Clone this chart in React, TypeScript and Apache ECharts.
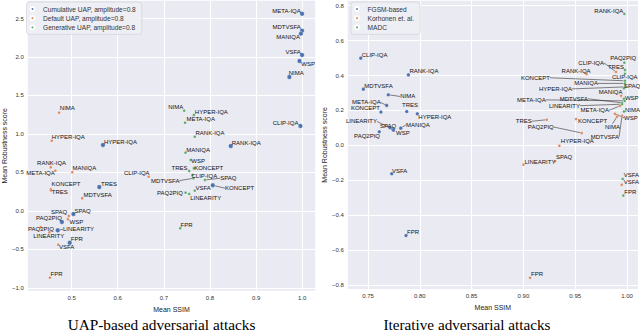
import React, { useEffect, useRef } from "react";
import * as echarts from "echarts";

// ---------- Left panel: UAP-based adversarial attacks ----------
const cumulativeNames = ["META-IQA", "MDTVSFA", "MANIQA", "VSFA", "WSP", "NIMA", "CLIP-IQA", "RANK-IQA", "HYPER-IQA", "TRES", "SPAQ", "PAQ2PIQ", "LINEARITY", "FPR", "KONCEPT"];
const cumulativeSSIM = [0.9995, 0.9995, 0.997, 0.9995, 0.994, 0.972, 0.996, 0.845, 0.568, 0.56, 0.504, 0.479, 0.47, 0.496, 0.806];
const cumulativeScore = [2.562, 2.342, 2.303, 2.026, 1.948, 1.74, 1.104, 0.844, 0.857, 0.312, -0.039, -0.143, -0.251, -0.412, 0.334];

const defaultNames = ["NIMA", "HYPER-IQA", "RANK-IQA", "META-IQA", "MANIQA", "KONCEPT", "TRES", "MDTVSFA", "CLIP-IQA", "SPAQ", "WSP", "PAQ2PIQ", "LINEARITY", "VSFA", "FPR"];
const defaultSSIM = [0.473, 0.457, 0.455, 0.465, 0.5015, 0.455, 0.4555, 0.523, 0.667, 0.494, 0.492, 0.433, 0.452, 0.471, 0.453];
const defaultScore = [1.277, 0.913, 0.568, 0.523, 0.503, 0.282, 0.266, 0.165, 0.445, -0.065, -0.108, -0.212, -0.277, -0.438, -0.866];

const generativeNames = ["NIMA", "HYPER-IQA", "META-IQA", "RANK-IQA", "MANIQA", "WSP", "TRES", "KONCEPT", "CLIP-IQA", "MDTVSFA", "SPAQ", "VSFA", "PAQ2PIQ", "LINEARITY", "FPR"];
const generativeSSIM = [0.744, 0.765, 0.746, 0.767, 0.747, 0.758, 0.755, 0.765, 0.762, 0.764, 0.789, 0.767, 0.747, 0.755, 0.7355];
const generativeScore = [1.303, 1.247, 1.147, 0.965, 0.757, 0.662, 0.519, 0.555, 0.468, 0.425, 0.403, 0.264, 0.238, 0.221, -0.225];

// ---------- Right panel: Iterative adversarial attacks ----------
const fgsmNames = ["CLIP-IQA", "RANK-IQA", "MDTVSFA", "NIMA", "META-IQA", "KONCEPT", "TRES", "HYPER-IQA", "LINEARITY", "SPAQ", "WSP", "MANIQA", "PAQ2PIQ", "VSFA", "FPR"];
const fgsmSSIM = [0.743, 0.789, 0.7455, 0.7696, 0.768, 0.7625, 0.7874, 0.7976, 0.7712, 0.7738, 0.7746, 0.7816, 0.7609, 0.7729, 0.7867];
const fgsmScore = [0.5, 0.404, 0.322, 0.29, 0.229, 0.191, 0.194, 0.181, 0.101, 0.094, 0.087, 0.099, 0.078, -0.162, -0.516];

const korhonenNames = ["CLIP-IQA", "RANK-IQA", "KONCEPT", "HYPER-IQA", "PAQ2PIQ", "TRES", "LINEARITY", "SPAQ", "FPR", "VSFA", "MANIQA", "META-IQA", "WSP", "NIMA", "MDTVSFA"];
const korhonenSSIM = [0.9894, 0.961, 0.9508, 0.9347, 0.9563, 0.9225, 0.9, 0.9305, 0.9064, 0.9949, 0.9942, 0.9932, 0.9884, 0.9903, 0.9952];
const korhonenScore = [0.421, 0.408, 0.151, -0.002, 0.071, 0.147, -0.11, -0.091, -0.758, -0.225, 0.284, 0.227, 0.181, 0.164, 0.17];

const madcNames = ["RANK-IQA", "PAQ2PIQ", "TRES", "CLIP-IQA", "KONCEPT", "MANIQA", "HYPER-IQA", "SPAQ", "WSP", "META-IQA", "MDTVSFA", "LINEARITY", "NIMA", "VSFA", "FPR"];
const madcSSIM = [0.9974, 0.9974, 0.998, 0.998, 0.998, 0.998, 0.998, 0.997, 0.997, 0.9977, 0.9952, 0.9952, 0.997, 0.9958, 0.9964];
const madcScore = [0.753, 0.474, 0.432, 0.41, 0.37, 0.355, 0.335, 0.327, 0.267, 0.255, 0.244, 0.236, 0.194, -0.192, -0.287];

// Tick labels
const leftXTicks = [0.5, 0.6, 0.7, 0.8, 0.9, 1.0];
const leftYTicks = [-1.0, -0.5, 0.0, 0.5, 1.0, 1.5, 2.0, 2.5];
const rightXTicks = [0.75, 0.8, 0.85, 0.9, 0.95, 1.0];
const rightYTicks = [-0.8, -0.6, -0.4, -0.2, 0.0, 0.2, 0.4, 0.6, 0.8];

const seriesTitles = ["Cumulative UAP, amplitude=0.8", "Default UAP, amplitude=0.8", "Generative UAP, amplitude=0.8", "FGSM-based", "Korhonen et. al.", "MADC"];
const captions = ["UAP-based adversarial attacks", "Iterative adversarial attacks"];

// ---------- Layout (label placement: dx, dy from point, alignment, leader line) ----------
type Off = [number, number, string, number?];
const cumulativeLabelPos: Off[] = [[-1.3, -3, "r"], [-1.3, -4, "r"], [-1, 3, "r"], [-1.3, -3, "r"], [1.7, 3, "l"], [-0.7, -4, "l"], [-2, -3.3, "r"], [1, -3.3, "l"], [1, -3.3, "l"], [1.7, -3.3, "l"], [1, -3.3, "l"], [0, -4, "r"], [5.3, -1, "l", 1], [1, -3.7, "l"], [12.3, 3, "l", 1]];
const defaultLabelPos: Off[] = [[0.7, -4.4, "l"], [0, -4, "l"], [-13.7, -4, "l"], [-0.7, 2.6, "r"], [0.3, -4, "l"], [0.7, -5, "l"], [0.7, 2, "l"], [1.3, -3.3, "l"], [1, -3.4, "r"], [-1.6, -4.3, "r"], [1.7, 2.4, "l"], [-12.7, 1.4, "l"], [-16.3, 3.4, "l"], [0.7, 2.3, "l"], [0.7, -3.4, "l"]];
const generativeLabelPos: Off[] = [[-1, -4, "r"], [1, -2.7, "l"], [1.3, -3.7, "l"], [0.7, -4, "l"], [0.7, -2.7, "l"], [0.7, 1, "l"], [-1.7, -3.3, "r"], [0.3, 0, "l"], [-1, 1, "l"], [-14, 2.4, "r", 1], [15.3, -1.7, "l", 1], [0.7, -3, "l"], [-2.6, 0, "r"], [1, 3.7, "l"], [0.3, -3.3, "l"]];
const fgsmLabelPos: Off[] = [[1, -3, "l"], [1, -4, "l"], [1, -3.6, "l"], [12, 1.7, "l", 1], [-6, -3, "r", 1], [-1, -4, "r"], [-4.7, -6.7, "l"], [1, 2.7, "l"], [-13, -6.3, "r", 1], [-12.7, -3.3, "l"], [2.5, 2.8, "l"], [5.3, -3.3, "l", 1], [0.7, 4, "r"], [0.3, -3, "l"], [1, -4, "l"]];
const korhonenLabelPos: Off[] = [[-12, -9, "r", 1], [-25, -3, "l"], [2, 1.5, "l"], [1.5, -5, "l"], [-28, -6, "r", 1], [-15, 1.5, "r", 1], [1, -3, "l"], [1, -4, "l"], [1, -4, "l"], [2, -3, "l"], [1.5, -4, "r"], [-11, 4.7, "r", 1], [9, 4, "l", 1], [-12, 10, "l", 1], [-3, 21, "r", 1]];
const madcLabelPos: Off[] = [[-1, -3, "r"], [-14, -5, "l"], [-1, -3, "r"], [-13, 3, "l"], [-75, -3, "r", 1], [-27, 0, "r", 1], [-53, 2, "r", 1], [0, -2.5, "l"], [1, -1, "l"], [-79, -1, "r", 1], [-34, -4, "r", 1], [-42, 1.5, "r", 1], [1, -2, "l"], [1, -4, "l"], [1, -4, "l"]];

const BLUE = "#4C72B0";
const ORANGE = "#DD8452";
const GREEN = "#55A868";

function fmt(d: number) {
  return (v: number) => v.toFixed(d).replace("-", "\u2212");
}

function makeSeries(name: string, names: string[], xs: number[], ys: number[], pos: Off[], color: string, size: number, gi: number, z: number) {
  return {
    type: "scatter",
    name,
    xAxisIndex: gi,
    yAxisIndex: gi,
    symbolSize: size,
    z,
    itemStyle: { color, opacity: 1, borderColor: "#fff", borderWidth: 0.3 },
    data: names.map((n, i) => ({
      name: n,
      value: [xs[i], ys[i]],
      labelLine: { show: !!pos[i][3] },
    })),
    label: {
      show: true,
      formatter: (p: any) => p.name,
      fontSize: 6,
      color: "#111",
      fontFamily: "Liberation Sans, Arial, sans-serif",
    },
    labelLine: { show: true, lineStyle: { color: "#333", width: 0.6 } },
    labelLayout: (params: any) => {
      const o = pos[params.dataIndex];
      const cx = params.rect.x + params.rect.width / 2;
      const cy = params.rect.y + params.rect.height / 2;
      return {
        x: cx + o[0],
        y: cy + o[1],
        align: o[2] === "r" ? "right" : "left",
        verticalAlign: "middle",
      };
    },
  };
}

function axisCommon(ticks: number[], digits: number) {
  return {
    type: "value",
    axisLine: { show: false },
    axisTick: { show: false, customValues: ticks },
    axisLabel: { customValues: ticks, formatter: fmt(digits), fontSize: 6, color: "#333", margin: 4, fontFamily: "Liberation Sans, Arial, sans-serif" },
    splitLine: { show: true, lineStyle: { color: "#ffffff", width: 1 } },
    nameTextStyle: { fontSize: 7, color: "#222", fontFamily: "Liberation Sans, Arial, sans-serif" },
  };
}

const legendCommon = {
  orient: "vertical",
  top: 2,
  itemWidth: 11,
  itemHeight: 4,
  itemGap: 2.2,
  icon: "circle",
  padding: [3.5, 6, 3.5, 3],
  backgroundColor: "rgba(238,238,245,0.9)",
  borderColor: "#d4d4dc",
  borderWidth: 0.8,
  borderRadius: 3,
  textStyle: { fontSize: 6.6, color: "#333", fontFamily: "Liberation Sans, Arial, sans-serif" },
};

export default function App() {
  const ref = useRef<HTMLDivElement>(null);
  useEffect(() => {
    if (!ref.current) return;
    const chart = echarts.init(ref.current, null, { renderer: "svg" });
    const option: any = {
      animation: false,
      backgroundColor: "#ffffff",
      grid: [
        { left: 22.4, top: 0.8, width: 292.8, height: 290, show: true, backgroundColor: "#EAEAF2", borderWidth: 0, containLabel: false },
        { left: 347.8, top: 0.8, width: 290.1, height: 288.2, show: true, backgroundColor: "#EAEAF2", borderWidth: 0, containLabel: false },
      ],
      xAxis: [
        { ...axisCommon(leftXTicks, 1), gridIndex: 0, min: 0.405, max: 1.028, name: "Mean SSIM", nameLocation: "middle", nameGap: 11 },
        { ...axisCommon(rightXTicks, 2), gridIndex: 1, min: 0.7305, max: 1.0105, name: "Mean SSIM", nameLocation: "middle", nameGap: 11 },
      ],
      yAxis: [
        { ...axisCommon(leftYTicks, 1), gridIndex: 0, min: -1.037, max: 2.73, name: "Mean Robustness score", nameLocation: "middle", nameGap: 15, nameRotate: 90 },
        { ...axisCommon(rightYTicks, 1), gridIndex: 1, min: -0.822, max: 0.828, name: "Mean Robustness score", nameLocation: "middle", nameGap: 19, nameRotate: 90 },
      ],
      legend: [
        { ...legendCommon, left: 26.5, data: seriesTitles.slice(0, 3) },
        { ...legendCommon, left: 351, data: seriesTitles.slice(3, 6) },
      ],
      series: [
        makeSeries(seriesTitles[0], cumulativeNames, cumulativeSSIM, cumulativeScore, cumulativeLabelPos, BLUE, 4.5, 0, 3),
        makeSeries(seriesTitles[1], defaultNames, defaultSSIM, defaultScore, defaultLabelPos, ORANGE, 2.8, 0, 2),
        makeSeries(seriesTitles[2], generativeNames, generativeSSIM, generativeScore, generativeLabelPos, GREEN, 2.8, 0, 2),
        makeSeries(seriesTitles[3], fgsmNames, fgsmSSIM, fgsmScore, fgsmLabelPos, BLUE, 3.6, 1, 3),
        makeSeries(seriesTitles[4], korhonenNames, korhonenSSIM, korhonenScore, korhonenLabelPos, ORANGE, 2.8, 1, 2),
        makeSeries(seriesTitles[5], madcNames, madcSSIM, madcScore, madcLabelPos, GREEN, 2.8, 1, 2),
      ],
      graphic: [
        { type: "text", x: 161.5, y: 324, style: { text: captions[0], fill: "#000", font: "15.3px 'Liberation Serif', 'Times New Roman', serif", align: "center", verticalAlign: "middle" } },
        { type: "text", x: 467, y: 324, style: { text: captions[1], fill: "#000", font: "15.2px 'Liberation Serif', 'Times New Roman', serif", align: "center", verticalAlign: "middle" } },
      ],
    };
    chart.setOption(option);
    return () => chart.dispose();
  }, []);
  return <div ref={ref} style={{ position: "absolute", left: 0, top: 0, width: 640, height: 333 }} />;
}
